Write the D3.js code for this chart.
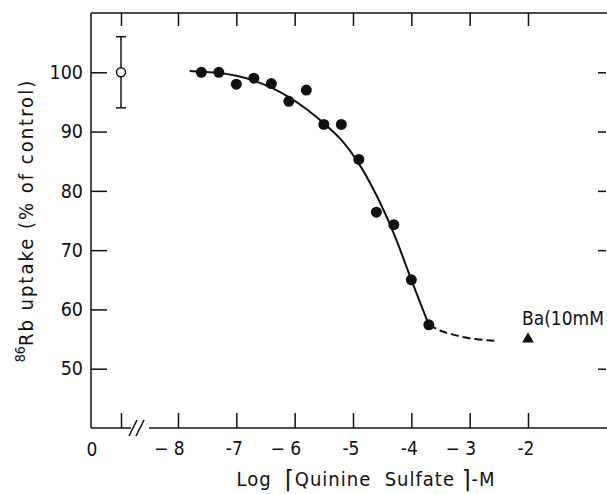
<!DOCTYPE html>
<html>
<head>
<meta charset="utf-8">
<script src="https://cdn.jsdelivr.net/npm/d3@7"></script>
<style>
  body { margin: 0; background: #fff; }
  text { font-family: "DejaVu Sans Condensed", "DejaVu Sans", sans-serif; fill: #111; }
</style>
</head>
<body>
<svg id="chart" width="607" height="494"></svg>
<script>
  // measured points: log [quinine sulfate] (M) vs 86Rb uptake (% of control)
  var concLog = [-7.6, -7.3, -7.0, -6.7, -6.4, -6.1, -5.8, -5.5, -5.2, -4.9, -4.6, -4.3, -4.0, -3.7];
  var uptake  = [100, 100, 98, 99, 98.1, 95.1, 97, 91.2, 91.2, 85.3, 76.4, 74.3, 65, 57.4];

  // fitted curve (solid part, then dashed tail)
  var fitX  = [-7.8, -7.6, -7.3, -7.0, -6.7, -6.4, -6.1, -5.8, -5.5, -5.2, -4.9, -4.6, -4.3, -4.0, -3.7];
  var fitY  = [100.2, 100.1, 99.9, 99.4, 98.6, 97.4, 95.8, 93.8, 91.4, 88.6, 84.6, 79.3, 72.8, 65.0, 57.4];
  var tailX = [-3.7, -3.5, -3.3, -3.1, -2.9, -2.7, -2.55];
  var tailY = [57.4, 56.4, 55.8, 55.3, 55.0, 54.8, 54.7];

  // control (no drug) with error bar, and Ba 10 mM
  var controlMean = 100, controlErr = 6;
  var baX = -2, baY = 55;

  var xTicks = [-8, -7, -6, -5, -4, -3, -2];
  var xTickLabels = ["\u2212 8", "-7", "\u2212 6", "-5", "-4", "\u2212 3", "-2"];
  var yTicks = [50, 60, 70, 80, 90, 100];
  var yTicksRight = [50, 70, 80, 90, 100];

  var pL = 91, pT = 13, pR = 607, pB = 428;
  var svg = d3.select("#chart");

  var x = d3.scaleLinear().domain([-8, -2]).range([178, 528]);
  var xb = d3.scaleLinear().domain([0, 1]).range([pL, 121]);   // broken-axis segment
  var y = d3.scaleLinear().domain([40, 110]).range([pB, pT]);

  var frame = svg.append("g").attr("stroke", "#111").attr("stroke-width", 1.5).attr("fill", "none");
  frame.append("line").attr("x1", pL).attr("x2", pL).attr("y1", pT).attr("y2", pB);
  frame.append("line").attr("x1", pL).attr("x2", pR).attr("y1", pT).attr("y2", pT);
  frame.append("line").attr("x1", pL).attr("x2", 131).attr("y1", pB).attr("y2", pB);
  frame.append("line").attr("x1", 149).attr("x2", pR).attr("y1", pB).attr("y2", pB);
  // break marks
  [133, 140].forEach(function(cx) {
    frame.append("line").attr("x1", cx - 4).attr("x2", cx + 4).attr("y1", pB + 8).attr("y2", pB - 8);
  });

  function styleAxis(g) {
    g.select(".domain").remove();
    g.selectAll(".tick line").attr("stroke", "#111").attr("stroke-width", 1.5);
  }

  // left
  svg.append("g").attr("transform", "translate(" + pL + ",0)")
    .call(d3.axisLeft(y).tickValues(yTicks).tickSize(-16).tickPadding(8))
    .call(styleAxis)
    .selectAll("text").style("font-size", "19.5px").attr("font-family", null);

  // right
  svg.append("g").attr("transform", "translate(" + (pR - 1) + ",0)")
    .call(d3.axisRight(y).tickValues(yTicksRight).tickSize(-8).tickFormat(""))
    .call(styleAxis);

  // top
  svg.append("g").attr("transform", "translate(0," + pT + ")")
    .call(d3.axisTop(x).tickValues(xTicks).tickSize(-13).tickFormat(""))
    .call(styleAxis);

  // bottom
  var bx = svg.append("g").attr("transform", "translate(0," + pB + ")")
    .call(d3.axisBottom(x).tickValues(xTicks).tickSize(-15).tickPadding(14)
      .tickFormat(function(d, i) { return xTickLabels[i]; }))
    .call(styleAxis);
  bx.selectAll("text").style("font-size", "19px").attr("text-anchor", "end").attr("x", 6)
    .attr("font-family", null);

  // broken segment ticks
  svg.append("g").attr("transform", "translate(0," + pB + ")")
    .call(d3.axisBottom(xb).tickValues([1]).tickSize(-15).tickFormat(""))
    .call(styleAxis);
  svg.append("g").attr("transform", "translate(0," + pT + ")")
    .call(d3.axisTop(xb).tickValues([1]).tickSize(-13).tickFormat(""))
    .call(styleAxis);
  svg.append("text").attr("x", xb(0) + 1).attr("y", pB + 28)
    .attr("text-anchor", "middle").style("font-size", "19px").text("0");

  // axis titles
  var yl = svg.append("text")
    .attr("transform", "translate(33," + ((pT + pB) / 2) + ") rotate(-90)")
    .attr("text-anchor", "middle").style("font-size", "20px").style("letter-spacing", "2px");
  yl.append("tspan").style("font-size", "14px").style("letter-spacing", "0px").attr("dy", "-8").text("86");
  yl.append("tspan").attr("dy", "8").attr("xml:space", "preserve").text("Rb uptake (% of control)");

  var xl = svg.append("text").attr("x", 366).attr("y", 486).attr("text-anchor", "middle")
    .style("font-size", "20px").style("letter-spacing", "1px").attr("xml:space", "preserve");
  xl.append("tspan").text("Log  ");
  xl.append("tspan").style("font-size", "25px").attr("dy", 2).text("\u2308");
  xl.append("tspan").attr("dy", -2).text("Quinine  Sulfate ");
  xl.append("tspan").style("font-size", "25px").attr("dy", 2).text("\u2309");
  xl.append("tspan").attr("dy", -2).text("-M");

  // fitted curve
  var line = d3.line().x(function(d) { return x(d[0]); }).y(function(d) { return y(d[1]); })
    .curve(d3.curveCatmullRom);
  svg.append("path").datum(d3.zip(fitX, fitY))
    .attr("fill", "none").attr("stroke", "#111").attr("stroke-width", 2).attr("d", line);
  svg.append("path").datum(d3.zip(tailX, tailY))
    .attr("fill", "none").attr("stroke", "#111").attr("stroke-width", 2)
    .attr("stroke-dasharray", "8 4").attr("d", line);

  // data points
  svg.append("g").selectAll("circle").data(d3.zip(concLog, uptake)).join("circle")
    .attr("cx", function(d) { return x(d[0]); })
    .attr("cy", function(d) { return y(d[1]); })
    .attr("r", 5.5).attr("fill", "#111");

  // control with error bar
  var cg = svg.append("g").attr("stroke", "#111").attr("stroke-width", 1.5);
  cg.append("line").attr("x1", xb(1)).attr("x2", xb(1))
    .attr("y1", y(controlMean + controlErr)).attr("y2", y(controlMean - controlErr));
  [controlMean + controlErr, controlMean - controlErr].forEach(function(v) {
    cg.append("line").attr("x1", xb(1) - 5).attr("x2", xb(1) + 5).attr("y1", y(v)).attr("y2", y(v));
  });
  cg.append("circle").attr("cx", xb(1)).attr("cy", y(controlMean)).attr("r", 4.5).attr("fill", "#fff");

  // Ba 10 mM
  svg.append("path").attr("d", d3.symbol(d3.symbolTriangle, 60)())
    .attr("transform", "translate(" + x(baX) + "," + y(baY) + ")").attr("fill", "#111");
  svg.append("text").attr("x", 522).attr("y", 325).style("font-size", "19px").text("Ba(10mM");
</script>
</body>
</html>
